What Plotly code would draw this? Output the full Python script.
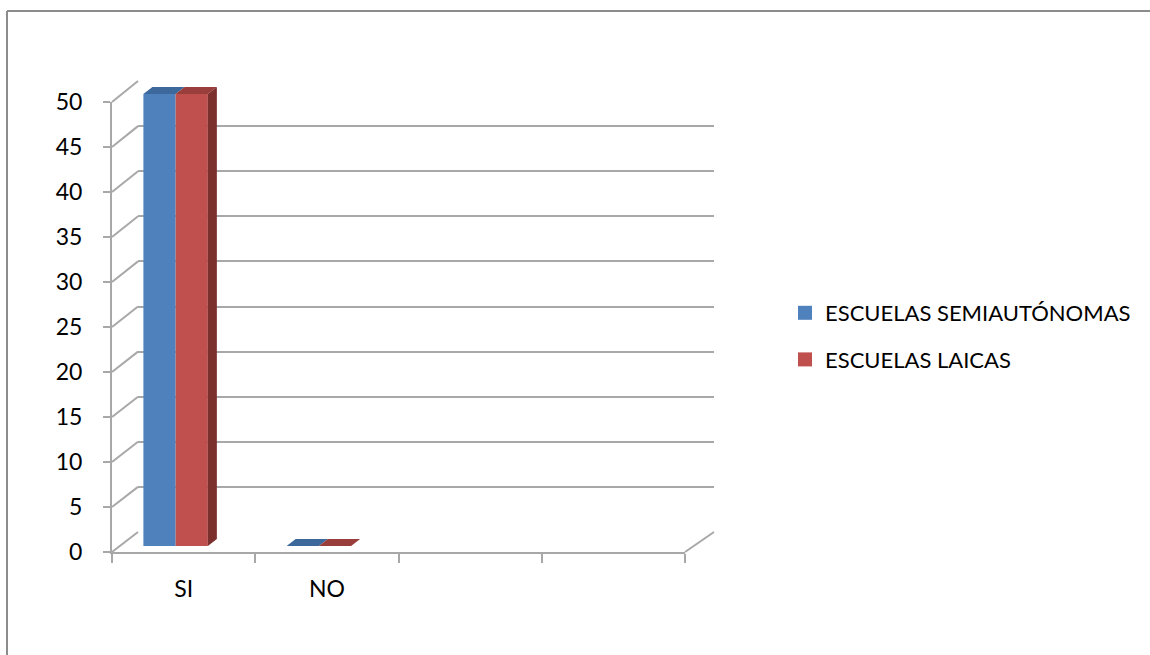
import plotly.graph_objects as go

# ---------------- data ----------------
categories = ["SI", "NO", "", ""]
cat_pos = [0, 1, 2, 3]
data_pos = [0, 1]
semiautonomas = [50, 0]
laicas = [50, 0]
series_names = ["ESCUELAS SEMIAUTÓNOMAS", "ESCUELAS LAICAS"]
y_ticks = [0, 5, 10, 15, 20, 25, 30, 35, 40, 45, 50]

# ---------------- geometry (pixels) ----------------
W, H = 1150, 655
FRONT_X0, FRONT_X1 = 112, 685
FRONT_Y0, FRONT_Y50 = 552, 102
BACK_X0, BACK_X1 = 138, 714
BACK_Y0, BACK_Y50 = 532, 81
BAR_X_SHIFT = -8
BAR_Y0 = 546
BAR_SCALE = 9.04          # px per unit
BAR_YMAX = 52
BARGAP = 0.55
DEPTH_DX_PX, DEPTH_DY_PX = 9, 7

BLUE, RED = "#4f81bd", "#c0504d"
BLUE_TOP, RED_TOP = "#3c689b", "#9a3e3b"
RED_SIDE = "#7c302e"
GRID = "#a8a8a8"
FONT = "Lato, Calibri, Carlito, sans-serif"


def px(x):
    return x / W


def py(y):
    return 1 - y / H


def front_y(v):
    return FRONT_Y0 - v * (FRONT_Y0 - FRONT_Y50) / 50


def back_y(v):
    return BACK_Y0 - v * (BACK_Y0 - BACK_Y50) / 50


fig = go.Figure()

# back wall grid carrier (x2/y2)
fig.add_trace(go.Scatter(x=[None], y=[None], xaxis="x2", yaxis="y2",
                         showlegend=False, hoverinfo="skip"))
# front axes carrier (x/y)
fig.add_trace(go.Scatter(x=[None], y=[None], xaxis="x", yaxis="y",
                         showlegend=False, hoverinfo="skip"))

# bars
colors = [BLUE, RED]
values = [semiautonomas, laicas]
for name, vals, col in zip(series_names, values, colors):
    fig.add_trace(go.Bar(x=data_pos, y=vals, name=name, marker=dict(color=col, line=dict(width=0)),
                         xaxis="x3", yaxis="y3", showlegend=False))

# 3D faces derived from bar values
group_w = 1 - BARGAP
bar_w = group_w / 2
cat_w_px = (FRONT_X1 - FRONT_X0) / 4
ddx = DEPTH_DX_PX / cat_w_px
ddy = DEPTH_DY_PX / BAR_SCALE
top_cols = [BLUE_TOP, RED_TOP]
for si, vals in enumerate(values):
    for xp, v in zip(data_pos, vals):
        x0 = xp - group_w / 2 + si * bar_w
        x1 = x0 + bar_w
        fig.add_trace(go.Scatter(
            x=[x0, x1, x1 + ddx, x0 + ddx, x0],
            y=[v, v, v + ddy, v + ddy, v],
            fill="toself", fillcolor=top_cols[si], mode="lines",
            line=dict(width=0, color=top_cols[si]),
            xaxis="x3", yaxis="y3", showlegend=False, hoverinfo="skip"))
        if si == len(values) - 1 and v > 0:
            fig.add_trace(go.Scatter(
                x=[x1, x1 + ddx, x1 + ddx, x1, x1],
                y=[0, ddy, v + ddy, v, 0],
                fill="toself", fillcolor=RED_SIDE, mode="lines",
                line=dict(width=0, color=RED_SIDE),
                xaxis="x3", yaxis="y3", showlegend=False, hoverinfo="skip"))

# legend entries
for name, col in zip(series_names, colors):
    fig.add_trace(go.Scatter(x=[None], y=[None], mode="markers", name=name,
                             marker=dict(symbol="square", size=14, color=col),
                             legendgroup=name, xaxis="x3", yaxis="y3"))

shapes = []
# left wall diagonals
for v in y_ticks:
    shapes.append(dict(type="line", xref="paper", yref="paper",
                       x0=px(FRONT_X0), y0=py(front_y(v)), x1=px(BACK_X0), y1=py(back_y(v)),
                       line=dict(color=GRID, width=2)))
# floor right diagonal
shapes.append(dict(type="line", xref="paper", yref="paper",
                   x0=px(FRONT_X1), y0=py(front_y(0)), x1=px(BACK_X1), y1=py(back_y(0)),
                   line=dict(color=GRID, width=2)))
# chart border
shapes.append(dict(type="line", xref="paper", yref="paper", x0=px(7), y0=py(11), x1=1, y1=py(11),
                   line=dict(color="#8c8c8c", width=2)))
shapes.append(dict(type="line", xref="paper", yref="paper", x0=px(7), y0=py(11), x1=px(7), y1=0,
                   line=dict(color="#8c8c8c", width=2)))

fig.update_layout(
    width=W, height=H,
    margin=dict(l=0, r=0, t=0, b=0, pad=0, autoexpand=False),
    paper_bgcolor="white", plot_bgcolor="rgba(0,0,0,0)",
    font=dict(family=FONT, size=23, color="black"),
    barmode="group", bargap=BARGAP, bargroupgap=0,
    showlegend=True,
    legend=dict(x=px(785), y=py(292), xanchor="left", yanchor="top",
                font=dict(family=FONT, size=22, color="black"),
                tracegroupgap=15, itemwidth=30, bgcolor="rgba(0,0,0,0)"),
    shapes=shapes,
    xaxis=dict(domain=[px(FRONT_X0), px(FRONT_X1)], range=[-0.5, 3.5], anchor="y",
               tickmode="array", tickvals=cat_pos, ticktext=categories, ticks="",
               showline=True, linecolor=GRID, linewidth=2, showgrid=False, zeroline=False,
               ticklabelstandoff=15, automargin=False,
               minor=dict(tickmode="array", tickvals=[-0.5, 0.5, 1.5, 2.5, 3.5], ticks="outside",
                          ticklen=9, tickwidth=2, tickcolor=GRID, showgrid=False)),
    yaxis=dict(domain=[py(FRONT_Y0), py(FRONT_Y50)], range=[0, 50], anchor="x",
               tickmode="array", tickvals=y_ticks, ticks="outside", ticklen=7, tickwidth=2,
               tickcolor=GRID, showline=True, linecolor=GRID, linewidth=2,
               showgrid=False, zeroline=False, ticklabelstandoff=16, automargin=False),
    xaxis2=dict(domain=[px(BACK_X0), px(BACK_X1)], range=[0, 1], anchor="y2", visible=False),
    yaxis2=dict(domain=[py(BACK_Y0), py(BACK_Y50)], range=[0, 50], anchor="x2",
                tickmode="array", tickvals=y_ticks, showticklabels=False, ticks="",
                showgrid=True, gridcolor=GRID, gridwidth=2, zeroline=False, showline=False),
    xaxis3=dict(domain=[px(FRONT_X0 + BAR_X_SHIFT), px(FRONT_X1 + BAR_X_SHIFT)], range=[-0.5, 3.5],
                anchor="y3", visible=False),
    yaxis3=dict(domain=[py(BAR_Y0), py(BAR_Y0 - BAR_YMAX * BAR_SCALE)], range=[0, BAR_YMAX],
                anchor="x3", visible=False),
)

fig.write_html("out.html", config={"displayModeBar": False},
               post_script="document.body.style.margin='0px';document.body.style.overflow='hidden';")
